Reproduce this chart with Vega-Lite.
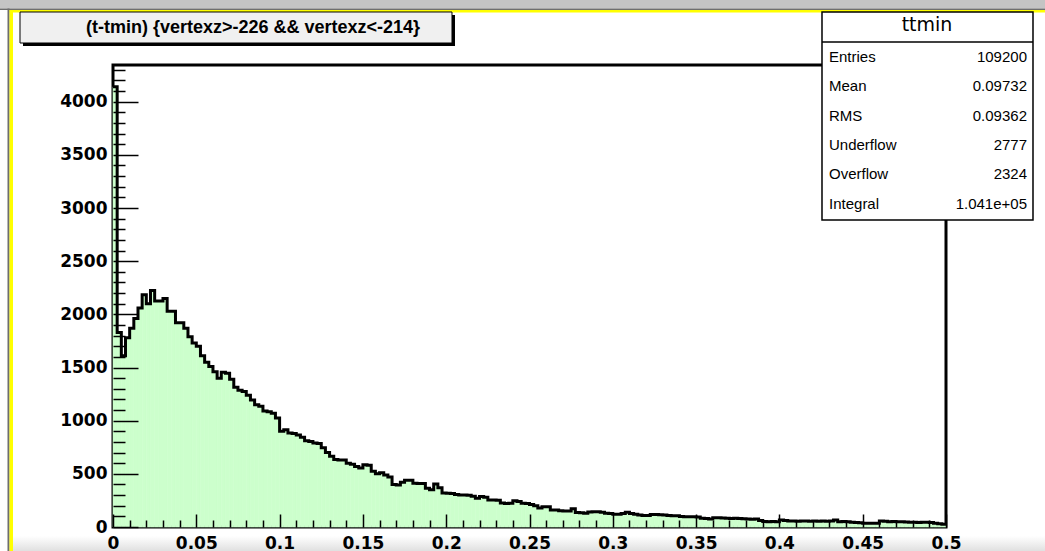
{
  "$schema": "https://vega.github.io/schema/vega-lite/v6.json",
  "width": 833,
  "height": 462,
  "autosize": {"type": "none"},
  "padding": {"left": 113, "top": 65, "right": 99, "bottom": 24},
  "background": "#ffffff",
  "config": {
    "view": {"stroke": "#000000", "strokeWidth": 3},
    "axis": {"grid": false, "title": null}
  },
  "datasets": {
    "hist": [
      {"lo": 0, "hi": 0.0025, "n": 4140}, {"lo": 0.0025, "hi": 0.005, "n": 1830}, {"lo": 0.005, "hi": 0.0075, "n": 1610}, {"lo": 0.0075, "hi": 0.01, "n": 1780},
      {"lo": 0.01, "hi": 0.0125, "n": 1870}, {"lo": 0.0125, "hi": 0.015, "n": 1960}, {"lo": 0.015, "hi": 0.0175, "n": 2060}, {"lo": 0.0175, "hi": 0.02, "n": 2185},
      {"lo": 0.02, "hi": 0.0225, "n": 2100}, {"lo": 0.0225, "hi": 0.025, "n": 2225}, {"lo": 0.025, "hi": 0.0275, "n": 2125}, {"lo": 0.0275, "hi": 0.03, "n": 2125},
      {"lo": 0.03, "hi": 0.0325, "n": 2150}, {"lo": 0.0325, "hi": 0.035, "n": 2030}, {"lo": 0.035, "hi": 0.0375, "n": 2030}, {"lo": 0.0375, "hi": 0.04, "n": 1920},
      {"lo": 0.04, "hi": 0.0425, "n": 1920}, {"lo": 0.0425, "hi": 0.045, "n": 1870}, {"lo": 0.045, "hi": 0.0475, "n": 1790}, {"lo": 0.0475, "hi": 0.05, "n": 1730},
      {"lo": 0.05, "hi": 0.0525, "n": 1700}, {"lo": 0.0525, "hi": 0.055, "n": 1610}, {"lo": 0.055, "hi": 0.0575, "n": 1550}, {"lo": 0.0575, "hi": 0.06, "n": 1510},
      {"lo": 0.06, "hi": 0.0625, "n": 1460}, {"lo": 0.0625, "hi": 0.065, "n": 1400}, {"lo": 0.065, "hi": 0.0675, "n": 1455}, {"lo": 0.0675, "hi": 0.07, "n": 1445},
      {"lo": 0.07, "hi": 0.0725, "n": 1390}, {"lo": 0.0725, "hi": 0.075, "n": 1315}, {"lo": 0.075, "hi": 0.0775, "n": 1285}, {"lo": 0.0775, "hi": 0.08, "n": 1275},
      {"lo": 0.08, "hi": 0.0825, "n": 1240}, {"lo": 0.0825, "hi": 0.085, "n": 1195}, {"lo": 0.085, "hi": 0.0875, "n": 1150}, {"lo": 0.0875, "hi": 0.09, "n": 1135},
      {"lo": 0.09, "hi": 0.0925, "n": 1090}, {"lo": 0.0925, "hi": 0.095, "n": 1085}, {"lo": 0.095, "hi": 0.0975, "n": 1070}, {"lo": 0.0975, "hi": 0.1, "n": 1025},
      {"lo": 0.1, "hi": 0.1025, "n": 900}, {"lo": 0.1025, "hi": 0.105, "n": 915}, {"lo": 0.105, "hi": 0.1075, "n": 885}, {"lo": 0.1075, "hi": 0.11, "n": 880},
      {"lo": 0.11, "hi": 0.1125, "n": 865}, {"lo": 0.1125, "hi": 0.115, "n": 845}, {"lo": 0.115, "hi": 0.1175, "n": 810}, {"lo": 0.1175, "hi": 0.12, "n": 805},
      {"lo": 0.12, "hi": 0.1225, "n": 790}, {"lo": 0.1225, "hi": 0.125, "n": 785}, {"lo": 0.125, "hi": 0.1275, "n": 745}, {"lo": 0.1275, "hi": 0.13, "n": 700},
      {"lo": 0.13, "hi": 0.1325, "n": 665}, {"lo": 0.1325, "hi": 0.135, "n": 635}, {"lo": 0.135, "hi": 0.1375, "n": 630}, {"lo": 0.1375, "hi": 0.14, "n": 630},
      {"lo": 0.14, "hi": 0.1425, "n": 600}, {"lo": 0.1425, "hi": 0.145, "n": 590}, {"lo": 0.145, "hi": 0.1475, "n": 570}, {"lo": 0.1475, "hi": 0.15, "n": 555},
      {"lo": 0.15, "hi": 0.1525, "n": 585}, {"lo": 0.1525, "hi": 0.155, "n": 580}, {"lo": 0.155, "hi": 0.1575, "n": 525}, {"lo": 0.1575, "hi": 0.16, "n": 500},
      {"lo": 0.16, "hi": 0.1625, "n": 510}, {"lo": 0.1625, "hi": 0.165, "n": 490}, {"lo": 0.165, "hi": 0.1675, "n": 470}, {"lo": 0.1675, "hi": 0.17, "n": 400},
      {"lo": 0.17, "hi": 0.1725, "n": 395}, {"lo": 0.1725, "hi": 0.175, "n": 420}, {"lo": 0.175, "hi": 0.1775, "n": 440}, {"lo": 0.1775, "hi": 0.18, "n": 440},
      {"lo": 0.18, "hi": 0.1825, "n": 412}, {"lo": 0.1825, "hi": 0.185, "n": 410}, {"lo": 0.185, "hi": 0.1875, "n": 410}, {"lo": 0.1875, "hi": 0.19, "n": 365},
      {"lo": 0.19, "hi": 0.1925, "n": 350}, {"lo": 0.1925, "hi": 0.195, "n": 405}, {"lo": 0.195, "hi": 0.1975, "n": 370}, {"lo": 0.1975, "hi": 0.2, "n": 320},
      {"lo": 0.2, "hi": 0.2025, "n": 318}, {"lo": 0.2025, "hi": 0.205, "n": 315}, {"lo": 0.205, "hi": 0.2075, "n": 305}, {"lo": 0.2075, "hi": 0.21, "n": 300},
      {"lo": 0.21, "hi": 0.2125, "n": 300}, {"lo": 0.2125, "hi": 0.215, "n": 298}, {"lo": 0.215, "hi": 0.2175, "n": 290}, {"lo": 0.2175, "hi": 0.22, "n": 270},
      {"lo": 0.22, "hi": 0.2225, "n": 286}, {"lo": 0.2225, "hi": 0.225, "n": 280}, {"lo": 0.225, "hi": 0.2275, "n": 255}, {"lo": 0.2275, "hi": 0.23, "n": 254},
      {"lo": 0.23, "hi": 0.2325, "n": 252}, {"lo": 0.2325, "hi": 0.235, "n": 225}, {"lo": 0.235, "hi": 0.2375, "n": 222}, {"lo": 0.2375, "hi": 0.24, "n": 224},
      {"lo": 0.24, "hi": 0.2425, "n": 248}, {"lo": 0.2425, "hi": 0.245, "n": 240}, {"lo": 0.245, "hi": 0.2475, "n": 224}, {"lo": 0.2475, "hi": 0.25, "n": 222},
      {"lo": 0.25, "hi": 0.2525, "n": 212}, {"lo": 0.2525, "hi": 0.255, "n": 200}, {"lo": 0.255, "hi": 0.2575, "n": 178}, {"lo": 0.2575, "hi": 0.26, "n": 190},
      {"lo": 0.26, "hi": 0.2625, "n": 190}, {"lo": 0.2625, "hi": 0.265, "n": 160}, {"lo": 0.265, "hi": 0.2675, "n": 161}, {"lo": 0.2675, "hi": 0.27, "n": 152},
      {"lo": 0.27, "hi": 0.2725, "n": 150}, {"lo": 0.2725, "hi": 0.275, "n": 151}, {"lo": 0.275, "hi": 0.2775, "n": 172}, {"lo": 0.2775, "hi": 0.28, "n": 136},
      {"lo": 0.28, "hi": 0.2825, "n": 134}, {"lo": 0.2825, "hi": 0.285, "n": 130}, {"lo": 0.285, "hi": 0.2875, "n": 140}, {"lo": 0.2875, "hi": 0.29, "n": 144},
      {"lo": 0.29, "hi": 0.2925, "n": 143}, {"lo": 0.2925, "hi": 0.295, "n": 138}, {"lo": 0.295, "hi": 0.2975, "n": 130}, {"lo": 0.2975, "hi": 0.3, "n": 126},
      {"lo": 0.3, "hi": 0.3025, "n": 119}, {"lo": 0.3025, "hi": 0.305, "n": 120}, {"lo": 0.305, "hi": 0.3075, "n": 126}, {"lo": 0.3075, "hi": 0.31, "n": 138},
      {"lo": 0.31, "hi": 0.3125, "n": 128}, {"lo": 0.3125, "hi": 0.315, "n": 120}, {"lo": 0.315, "hi": 0.3175, "n": 114}, {"lo": 0.3175, "hi": 0.32, "n": 108},
      {"lo": 0.32, "hi": 0.3225, "n": 107}, {"lo": 0.3225, "hi": 0.325, "n": 117}, {"lo": 0.325, "hi": 0.3275, "n": 118}, {"lo": 0.3275, "hi": 0.33, "n": 116},
      {"lo": 0.33, "hi": 0.3325, "n": 112}, {"lo": 0.3325, "hi": 0.335, "n": 107}, {"lo": 0.335, "hi": 0.3375, "n": 106}, {"lo": 0.3375, "hi": 0.34, "n": 105},
      {"lo": 0.34, "hi": 0.3425, "n": 98}, {"lo": 0.3425, "hi": 0.345, "n": 97}, {"lo": 0.345, "hi": 0.3475, "n": 96}, {"lo": 0.3475, "hi": 0.35, "n": 97},
      {"lo": 0.35, "hi": 0.3525, "n": 94}, {"lo": 0.3525, "hi": 0.355, "n": 83}, {"lo": 0.355, "hi": 0.3575, "n": 80}, {"lo": 0.3575, "hi": 0.36, "n": 76},
      {"lo": 0.36, "hi": 0.3625, "n": 88}, {"lo": 0.3625, "hi": 0.365, "n": 87}, {"lo": 0.365, "hi": 0.3675, "n": 85}, {"lo": 0.3675, "hi": 0.37, "n": 82},
      {"lo": 0.37, "hi": 0.3725, "n": 81}, {"lo": 0.3725, "hi": 0.375, "n": 82}, {"lo": 0.375, "hi": 0.3775, "n": 80}, {"lo": 0.3775, "hi": 0.38, "n": 78},
      {"lo": 0.38, "hi": 0.3825, "n": 75}, {"lo": 0.3825, "hi": 0.385, "n": 74}, {"lo": 0.385, "hi": 0.3875, "n": 75}, {"lo": 0.3875, "hi": 0.39, "n": 60},
      {"lo": 0.39, "hi": 0.3925, "n": 52}, {"lo": 0.3925, "hi": 0.395, "n": 50}, {"lo": 0.395, "hi": 0.3975, "n": 51}, {"lo": 0.3975, "hi": 0.4, "n": 49},
      {"lo": 0.4, "hi": 0.4025, "n": 66}, {"lo": 0.4025, "hi": 0.405, "n": 60}, {"lo": 0.405, "hi": 0.4075, "n": 56}, {"lo": 0.4075, "hi": 0.41, "n": 57},
      {"lo": 0.41, "hi": 0.4125, "n": 55}, {"lo": 0.4125, "hi": 0.415, "n": 56}, {"lo": 0.415, "hi": 0.4175, "n": 57}, {"lo": 0.4175, "hi": 0.42, "n": 55},
      {"lo": 0.42, "hi": 0.4225, "n": 56}, {"lo": 0.4225, "hi": 0.425, "n": 54}, {"lo": 0.425, "hi": 0.4275, "n": 57}, {"lo": 0.4275, "hi": 0.43, "n": 55},
      {"lo": 0.43, "hi": 0.4325, "n": 56}, {"lo": 0.4325, "hi": 0.435, "n": 66}, {"lo": 0.435, "hi": 0.4375, "n": 50}, {"lo": 0.4375, "hi": 0.44, "n": 51},
      {"lo": 0.44, "hi": 0.4425, "n": 49}, {"lo": 0.4425, "hi": 0.445, "n": 45}, {"lo": 0.445, "hi": 0.4475, "n": 42}, {"lo": 0.4475, "hi": 0.45, "n": 41},
      {"lo": 0.45, "hi": 0.4525, "n": 36}, {"lo": 0.4525, "hi": 0.455, "n": 35}, {"lo": 0.455, "hi": 0.4575, "n": 36}, {"lo": 0.4575, "hi": 0.46, "n": 35},
      {"lo": 0.46, "hi": 0.4625, "n": 56}, {"lo": 0.4625, "hi": 0.465, "n": 55}, {"lo": 0.465, "hi": 0.4675, "n": 50}, {"lo": 0.4675, "hi": 0.47, "n": 51},
      {"lo": 0.47, "hi": 0.4725, "n": 49}, {"lo": 0.4725, "hi": 0.475, "n": 50}, {"lo": 0.475, "hi": 0.4775, "n": 48}, {"lo": 0.4775, "hi": 0.48, "n": 44},
      {"lo": 0.48, "hi": 0.4825, "n": 45}, {"lo": 0.4825, "hi": 0.485, "n": 43}, {"lo": 0.485, "hi": 0.4875, "n": 44}, {"lo": 0.4875, "hi": 0.49, "n": 45},
      {"lo": 0.49, "hi": 0.4925, "n": 43}, {"lo": 0.4925, "hi": 0.495, "n": 35}, {"lo": 0.495, "hi": 0.4975, "n": 30}, {"lo": 0.4975, "hi": 0.5, "n": 25}
    ],
    "stats": [
      {"stat": "Entries", "value": "109200"},
      {"stat": "Mean", "value": "0.09732"},
      {"stat": "RMS", "value": "0.09362"},
      {"stat": "Underflow", "value": "2777"},
      {"stat": "Overflow", "value": "2324"},
      {"stat": "Integral", "value": "1.041e+05"}
    ]
  },
  "layer": [
    {
      "layer": [
        {
          "description": "canvas chrome: grey strip along the top",
          "data": {"values": [{}]},
          "mark": {"type": "rect", "color": "#c4c4c4"},
          "encoding": {
            "x": {"datum": -0.06783, "axis": null}, "x2": {"datum": 0.55942},
            "y": {"datum": 4956.3, "axis": null}, "y2": {"datum": 4876.4}
          }
        },
        {
          "data": {"values": [{}]},
          "mark": {"type": "rect", "color": "#6e6e6e"},
          "encoding": {
            "x": {"datum": -0.06783, "axis": null}, "x2": {"datum": 0.55942},
            "y": {"datum": 4876.4, "axis": null}, "y2": {"datum": 4862.3}
          }
        },
        {
          "description": "yellow pad border, top edge",
          "data": {"values": [{}]},
          "mark": {"type": "rect", "color": "#ffff00"},
          "encoding": {
            "x": {"datum": -0.06212, "axis": null}, "x2": {"datum": 0.55942},
            "y": {"datum": 4862.3, "axis": null}, "y2": {"datum": 4838.8}
          }
        },
        {
          "data": {"values": [{}]},
          "mark": {"type": "rect", "color": "#6e6e6e"},
          "encoding": {
            "x": {"datum": -0.06333, "axis": null}, "x2": {"datum": -0.06212},
            "y": {"datum": 4876.4, "axis": null}, "y2": {"datum": -225.7}
          }
        },
        {
          "description": "yellow pad border, left edge",
          "data": {"values": [{}]},
          "mark": {"type": "rect", "color": "#ffff00"},
          "encoding": {
            "x": {"datum": -0.06212, "axis": null}, "x2": {"datum": -0.06002},
            "y": {"datum": 4862.3, "axis": null}, "y2": {"datum": -225.7}
          }
        },
        {
          "description": "soft grey band under the x labels",
          "data": {"values": [{}]},
          "mark": {
            "type": "rect",
            "color": {"gradient": "linear", "x1": 0, "y1": 0, "x2": 0, "y2": 1,
              "stops": [{"offset": 0, "color": "#ffffff"}, {"offset": 1, "color": "#e0e0e0"}]}
          },
          "encoding": {
            "x": {"datum": -0.06002, "axis": null}, "x2": {"datum": 0.55942},
            "y": {"datum": -84.6, "axis": null}, "y2": {"datum": -225.7}
          }
        },
        {
          "description": "histogram fill, one rect per bin",
          "data": {"name": "hist"},
          "mark": {"type": "rect", "color": "#ccffcc", "stroke": "#ccffcc", "strokeWidth": 0.6},
          "encoding": {
            "x": {
              "field": "lo", "type": "quantitative",
              "scale": {"domain": [0, 0.5], "nice": false, "zero": false},
              "axis": {
                "orient": "bottom", "values": [0, 0.05, 0.1, 0.15, 0.2, 0.25, 0.3, 0.35, 0.4, 0.45, 0.5],
                "format": "~g", "ticks": false, "domain": false, "grid": false, "title": null,
                "labelFont": "DejaVu Sans", "labelFontWeight": "bold", "labelFontSize": 17, "labelColor": "#000000",
                "labelPadding": 8, "labelBaseline": "top", "labelFlush": false, "labelOverlap": false, "labelBound": false, "zindex": 1
              }
            },
            "x2": {"field": "hi"},
            "y": {
              "field": "n", "type": "quantitative",
              "scale": {"domain": [0, 4345], "nice": false},
              "axis": {
                "orient": "left", "values": [0, 500, 1000, 1500, 2000, 2500, 3000, 3500, 4000],
                "format": "d", "ticks": false, "domain": false, "grid": false, "title": null,
                "labelFont": "DejaVu Sans", "labelFontWeight": "bold", "labelFontSize": 17, "labelColor": "#000000",
                "labelPadding": 6, "labelAlign": "right", "labelBaseline": "middle", "labelFlush": false, "labelOverlap": false, "labelBound": false, "zindex": 1
              }
            },
            "y2": {"datum": 0}
          }
        },
        {
          "description": "histogram outline, traced through both edges of every bin",
          "data": {"name": "hist"},
          "transform": [{"fold": ["lo", "hi"], "as": ["side", "edge"]}],
          "mark": {"type": "line", "color": "#000000", "strokeWidth": 3, "strokeJoin": "miter"},
          "encoding": {
            "x": {
              "field": "edge", "type": "quantitative",
              "axis": {
                "orient": "bottom",
                "values": [0, 0.01, 0.02, 0.03, 0.04, 0.05, 0.06, 0.07, 0.08, 0.09, 0.1, 0.11, 0.12, 0.13, 0.14, 0.15, 0.16, 0.17, 0.18, 0.19, 0.2, 0.21, 0.22, 0.23, 0.24, 0.25, 0.26, 0.27, 0.28, 0.29, 0.3, 0.31, 0.32, 0.33, 0.34, 0.35, 0.36, 0.37, 0.38, 0.39, 0.4, 0.41, 0.42, 0.43, 0.44, 0.45, 0.46, 0.47, 0.48, 0.49, 0.5],
                "labels": false, "domain": false, "grid": false, "title": null,
                "tickColor": "#000000", "tickWidth": 1.5,
                "tickSize": {"condition": {"test": "abs(datum.value * 20 - round(datum.value * 20)) < 0.001", "value": -13}, "value": -7},
                "zindex": 1
              }
            },
            "y": {
              "field": "n", "type": "quantitative",
              "axis": {
                "orient": "left",
                "values": [0, 100, 200, 300, 400, 500, 600, 700, 800, 900, 1000, 1100, 1200, 1300, 1400, 1500, 1600, 1700, 1800, 1900, 2000, 2100, 2200, 2300, 2400, 2500, 2600, 2700, 2800, 2900, 3000, 3100, 3200, 3300, 3400, 3500, 3600, 3700, 3800, 3900, 4000, 4100, 4200, 4300],
                "labels": false, "domain": false, "grid": false, "title": null,
                "tickColor": "#000000", "tickWidth": 1.5,
                "tickSize": {"condition": {"test": "datum.value % 500 === 0", "value": -25}, "value": -12},
                "zindex": 1
              }
            },
            "order": [{"field": "edge", "type": "quantitative"}, {"field": "side", "type": "nominal"}]
          }
        },
        {
          "description": "title pave: shadow",
          "data": {"values": [{}]},
          "mark": {"type": "rect", "color": "#000000"},
          "encoding": {
            "x": {"datum": -0.05402, "axis": null}, "x2": {"datum": 0.20528},
            "y": {"datum": 4815.3, "axis": null}, "y2": {"datum": 4523.7}
          }
        },
        {
          "description": "title pave: box",
          "data": {"values": [{}]},
          "mark": {"type": "rect", "fill": "#f0f0f0", "stroke": "#000000", "strokeWidth": 1},
          "encoding": {
            "x": {"datum": -0.05582, "axis": null}, "x2": {"datum": 0.20348},
            "y": {"datum": 4843.5, "axis": null}, "y2": {"datum": 4551.9}
          }
        },
        {
          "data": {"values": [{}]},
          "mark": {
            "type": "text", "text": "(t-tmin) {vertexz>-226 && vertexz<-214}",
            "font": "Liberation Sans", "fontWeight": "bold", "fontSize": 18,
            "align": "center", "baseline": "middle", "color": "#000000"
          },
          "encoding": {
            "x": {"datum": 0.08403, "axis": null},
            "y": {"datum": 4693.0, "axis": null}
          }
        },
        {
          "description": "statistics box",
          "data": {"values": [{}]},
          "mark": {"type": "rect", "fill": "#ffffff", "stroke": "#000000", "strokeWidth": 1.5},
          "encoding": {
            "x": {"datum": 0.42557, "axis": null}, "x2": {"datum": 0.55222},
            "y": {"datum": 4843.5, "axis": null}, "y2": {"datum": 2887.3}
          }
        },
        {
          "data": {"values": [{}]},
          "mark": {"type": "rule", "color": "#000000", "strokeWidth": 1.5},
          "encoding": {
            "x": {"datum": 0.42557, "axis": null}, "x2": {"datum": 0.55222},
            "y": {"datum": 4561.3, "axis": null}
          }
        },
        {
          "data": {"values": [{}]},
          "mark": {
            "type": "text", "text": "ttmin", "font": "DejaVu Sans", "fontSize": 19,
            "align": "center", "baseline": "middle", "color": "#000000"
          },
          "encoding": {
            "x": {"datum": 0.4886, "axis": null},
            "y": {"datum": 4721.2, "axis": null}
          }
        }
      ],
      "resolve": {"axis": {"x": "independent", "y": "independent"}}
    },
    {
      "description": "statistics rows",
      "data": {"name": "stats"},
      "encoding": {
        "y": {
          "field": "stat", "type": "ordinal",
          "scale": {"type": "point", "domain": ["Entries", "Mean", "RMS", "Underflow", "Overflow", "Integral"], "range": [-8.3, 138.7], "padding": 0},
          "axis": null
        }
      },
      "layer": [
        {
          "mark": {"type": "text", "font": "Liberation Sans", "fontSize": 15, "align": "left", "baseline": "middle", "color": "#000000"},
          "encoding": {"x": {"datum": 0.42978, "axis": null}, "text": {"field": "stat"}}
        },
        {
          "mark": {"type": "text", "font": "Liberation Sans", "fontSize": 15, "align": "right", "baseline": "middle", "color": "#000000"},
          "encoding": {"x": {"datum": 0.54862, "axis": null}, "text": {"field": "value"}}
        }
      ]
    }
  ],
  "resolve": {"scale": {"y": "independent"}}
}
